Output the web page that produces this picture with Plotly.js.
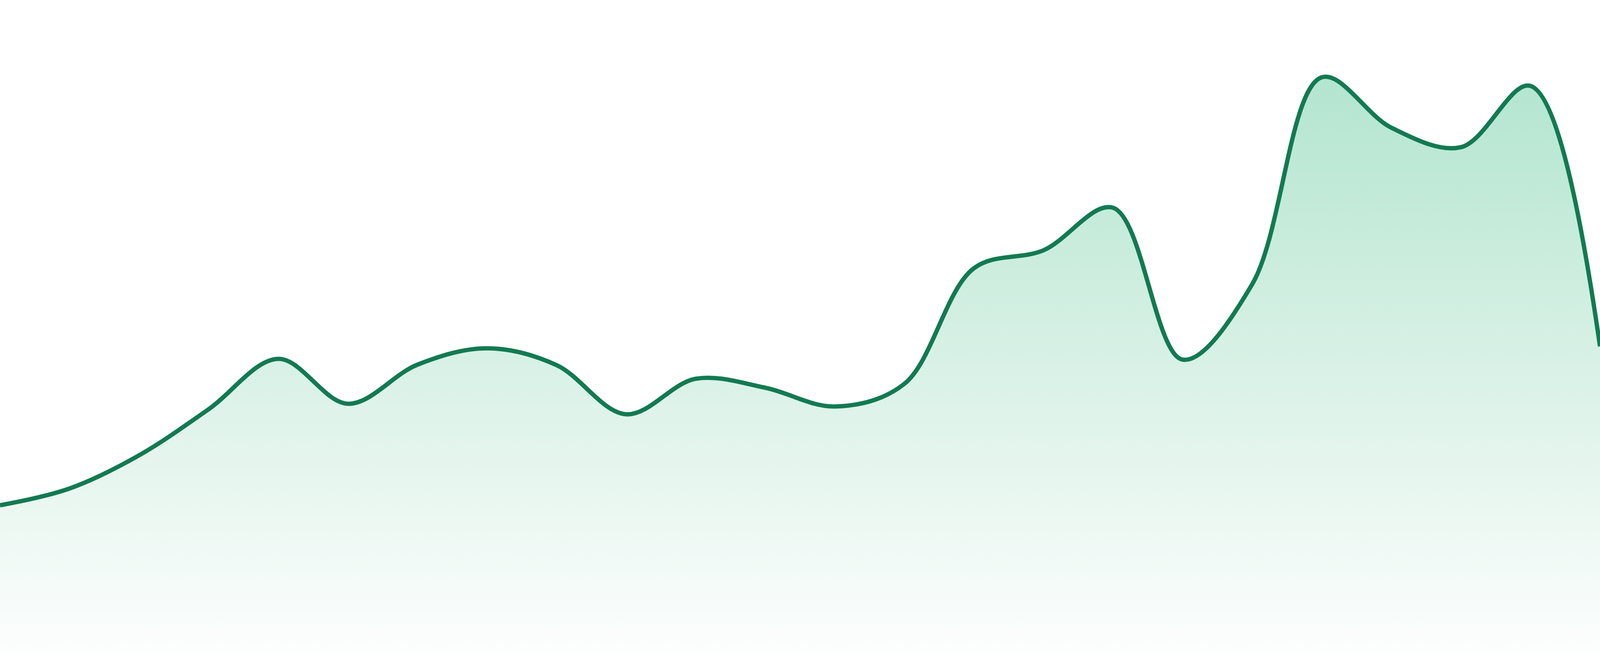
<!DOCTYPE html>
<html>
<head>
<meta charset="utf-8">
<script src="https://cdn.plot.ly/plotly-3.0.1.min.js"></script>
<style>
  html, body { margin: 0; padding: 0; background: #ffffff; overflow: hidden; width: 100%; height: 100%; }
  #chart { position: absolute; left: 0; top: 0; width: 100vw; height: 100vh; }
</style>
</head>
<body>
<div id="chart"></div>
<script>
// Period index (24 evenly spaced points, no visible axis labels)
const periods = [0, 1, 2, 3, 4, 5, 6, 7, 8, 9, 10, 11, 12, 13, 14, 15, 16, 17, 18, 19, 20, 21, 22, 23];
// Series values (arbitrary units, 0 = bottom of chart)
const values = [38.6, 42.9, 51.4, 63.2, 76.1, 64.6, 74.6, 78.8, 74.5, 61.9, 71.0, 68.7,
                63.9, 69.7, 99.3, 103.9, 114.8, 75.9, 95.2, 148.2, 135.3, 130.3, 146.0, 79.3];

const W = window.innerWidth || 4800;
const H = window.innerHeight || 1680;
const k = W / 4800;

const trace = {
  x: periods,
  y: values,
  type: 'scatter',
  mode: 'lines',
  line: { color: '#127a52', width: 13 * k, shape: 'spline', smoothing: 1 },
  fill: 'tozeroy',
  fillgradient: {
    type: 'vertical',
    start: 0,
    stop: 148.2,
    colorscale: [[0, '#fdfefe'], [0.5, '#d9f1e6'], [1, '#b3e5d0']]
  },
  hoverinfo: 'skip'
};

const layout = {
  width: W,
  height: H,
  margin: { l: 0, r: 0, t: 0, b: 0, pad: 0 },
  paper_bgcolor: '#ffffff',
  plot_bgcolor: '#ffffff',
  showlegend: false,
  xaxis: { range: [0, 23], visible: false, showgrid: false, zeroline: false, fixedrange: true },
  yaxis: { range: [0, 168], visible: false, showgrid: false, zeroline: false, fixedrange: true }
};

Plotly.newPlot('chart', [trace], layout, { displayModeBar: false, staticPlot: true });
</script>
</body>
</html>
